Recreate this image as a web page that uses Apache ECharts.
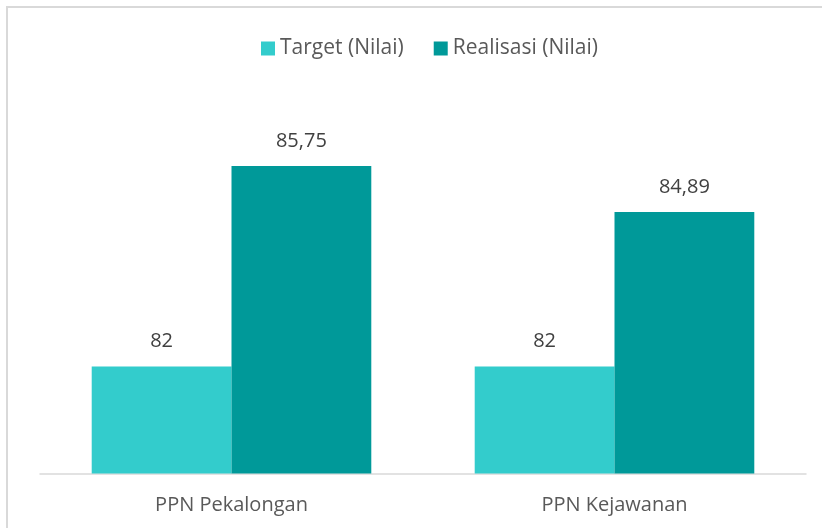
<!DOCTYPE html>
<html>
<head>
<meta charset="utf-8">
<script src="https://cdn.jsdelivr.net/npm/echarts@6/dist/echarts.min.js"></script>
<style>
  html, body { margin: 0; padding: 0; background: #fff; }
  #frame { position: absolute; left: 6px; top: 6px; width: 830px; height: 540px; border: 2px solid #d9d9d9; box-sizing: border-box; }
  #chart { position: absolute; left: 0; top: 0; width: 822px; height: 528px; }
</style>
</head>
<body>
<div id="frame"></div>
<div id="chart"></div>
<script>
// data
const categories = ['PPN Pekalongan', 'PPN Kejawanan']
const seriesNames = ['Target (Nilai)', 'Realisasi (Nilai)']
const targetValues = [82, 82]
const realisasiValues = [85.75, 84.89]
const colors = ['#33cccc', '#009999']

const fontFamily = '"Open Sans", "Noto Sans", sans-serif'

// angka pakai koma desimal
const fmt = (p) => String(p.value).replace('.', ',')

const chart = echarts.init(document.getElementById('chart'))

const barLabel = {
  show: true,
  position: 'top',
  distance: 15,
  formatter: fmt,
  color: '#404040',
  fontSize: 20,
  fontFamily: fontFamily,
}

chart.setOption({
  animation: false,
  color: colors,
  legend: {
    top: 33,
    left: 256,
    itemWidth: 14,
    itemHeight: 14,
    itemGap: 30,
    icon: 'rect',
    textStyle: { color: '#595959', fontSize: 21, fontFamily: fontFamily },
    data: seriesNames,
  },
  grid: { left: 40, right: 16, top: 45.5, bottom: 54.5 },
  xAxis: {
    type: 'category',
    data: categories,
    axisLine: { lineStyle: { color: '#d9d9d9', width: 1.5 } },
    axisTick: { show: false },
    axisLabel: { color: '#595959', fontSize: 20, fontFamily: fontFamily, margin: 22 },
  },
  yAxis: {
    type: 'value',
    min: 80,
    max: 88,
    show: false,
    splitLine: { show: false },
  },
  series: [
    {
      name: seriesNames[0],
      type: 'bar',
      data: targetValues,
      barGap: '0%',
      barCategoryGap: '27%',
      label: barLabel,
    },
    {
      name: seriesNames[1],
      type: 'bar',
      data: realisasiValues,
      label: barLabel,
    },
  ],
})
</script>
</body>
</html>
